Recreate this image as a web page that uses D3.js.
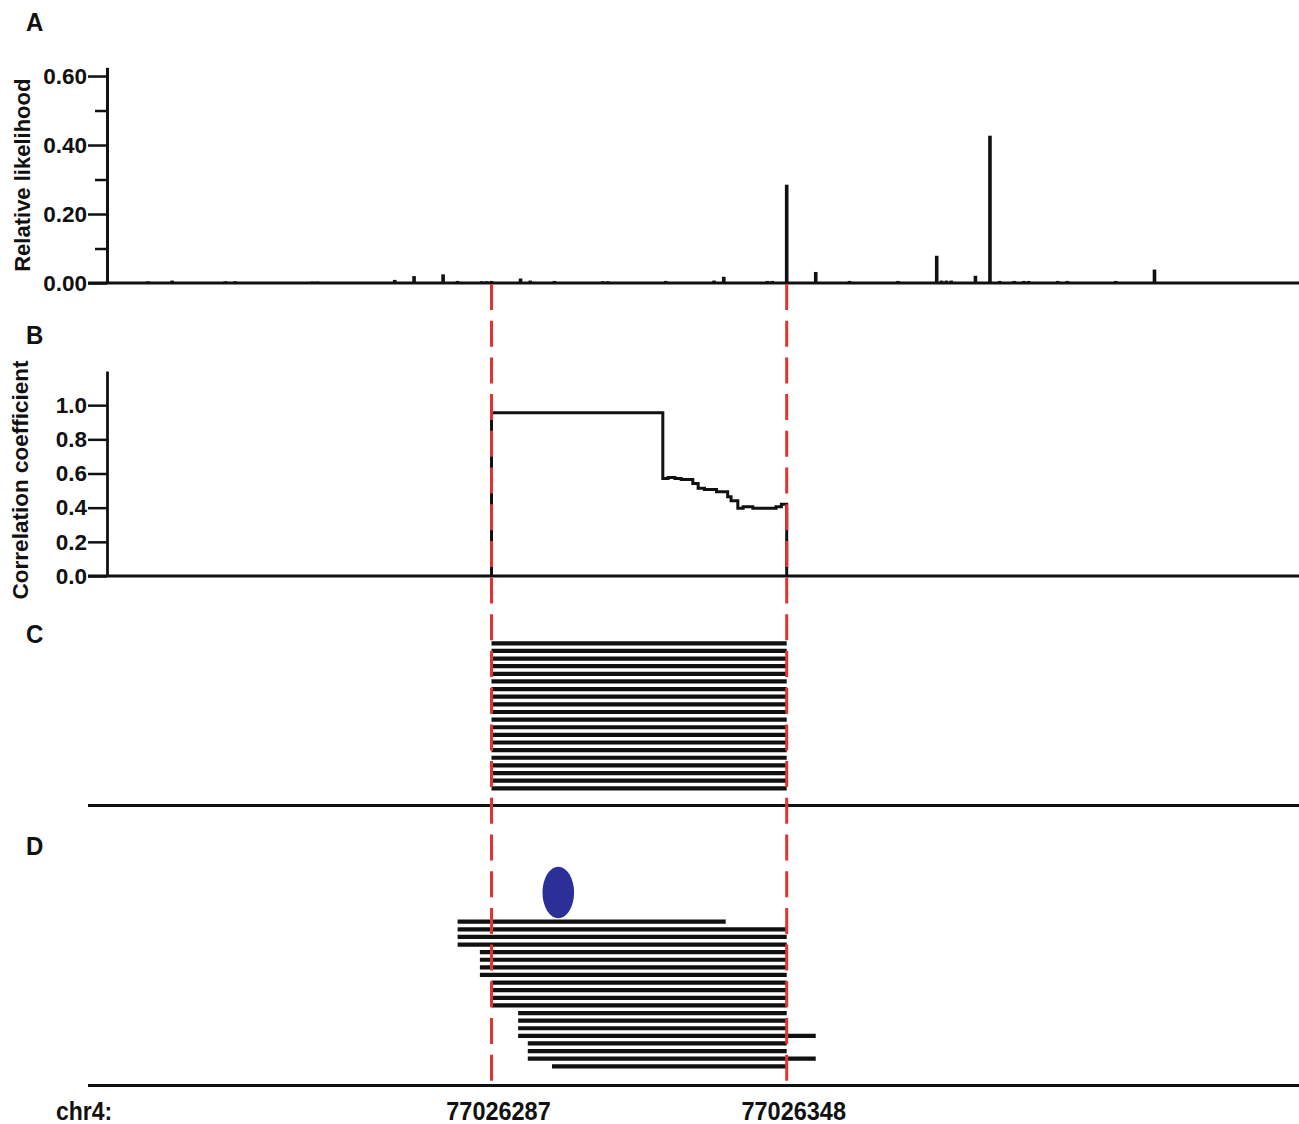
<!DOCTYPE html>
<html>
<head>
<meta charset="utf-8">
<script src="https://cdn.jsdelivr.net/npm/d3@7"></script>
<style>
  html, body { margin: 0; padding: 0; background: #fff; }
  svg { display: block; }
  text { font-family: "Liberation Sans", Arial, sans-serif; font-weight: bold; fill: #111; }
</style>
</head>
<body>
<svg id="chart" width="1299" height="1124"></svg>
<script>
// ---------------- DATA ----------------
const chrom = "chr4:";
const regionBounds = [77026287, 77026348];          // dashed red boundaries / tick labels
const xTickLabels = ["77026287", "77026348"];

// Panel A: relative likelihood per position
const likePos = [77026216, 77026221, 77026232, 77026234, 77026250, 77026251, 77026267, 77026271,
  77026277, 77026280, 77026285, 77026286, 77026287, 77026293, 77026295, 77026300, 77026310,
  77026311, 77026323, 77026333, 77026335, 77026344, 77026345, 77026348, 77026354, 77026361,
  77026371, 77026379, 77026380, 77026381, 77026382, 77026387, 77026390, 77026392, 77026395,
  77026397, 77026398, 77026404, 77026406, 77026416, 77026424];
const likeVal = [0.005, 0.007, 0.005, 0.005, 0.004, 0.004, 0.009, 0.020,
  0.025, 0.006, 0.005, 0.005, 0.006, 0.013, 0.007, 0.006, 0.005,
  0.005, 0.006, 0.007, 0.018, 0.006, 0.006, 0.285, 0.032, 0.006,
  0.006, 0.079, 0.007, 0.007, 0.007, 0.021, 0.427, 0.006, 0.006,
  0.006, 0.006, 0.006, 0.006, 0.006, 0.039];
const likeTicks = [0.00, 0.20, 0.40, 0.60];
const likeMinorTicks = [0.10, 0.30, 0.50];

// Panel B: correlation coefficient (step function)
const corrPos = [77026287, 77026322.4, 77026323.5, 77026324.9, 77026326.2, 77026328.6, 77026329.7,
  77026331.0, 77026333.5, 77026335.8, 77026336.5, 77026337.9, 77026339.0, 77026341.0,
  77026345.8, 77026346.9];
const corrVal = [0.955, 0.571, 0.577, 0.571, 0.565, 0.542, 0.513,
  0.507, 0.493, 0.464, 0.440, 0.396, 0.405, 0.396,
  0.405, 0.420];
const corrTicks = [0.0, 0.2, 0.4, 0.6, 0.8, 1.0];

// Panel C: reads (start, end)
const cStart = [77026287, 77026287, 77026287, 77026287, 77026287, 77026287, 77026287, 77026287, 77026287, 77026287,
  77026287, 77026287, 77026287, 77026287, 77026287, 77026287, 77026287, 77026287, 77026287, 77026287];
const cEnd = [77026348, 77026348, 77026348, 77026348, 77026348, 77026348, 77026348, 77026348, 77026348, 77026348,
  77026348, 77026348, 77026348, 77026348, 77026348, 77026348, 77026348, 77026348, 77026348, 77026348];

// Panel D: reads (start, end) and marked site
const dStart = [77026280, 77026280, 77026280, 77026280, 77026284.6, 77026284.6, 77026284.6, 77026284.6,
  77026287, 77026287, 77026287, 77026287, 77026292.5, 77026292.5, 77026292.5, 77026292.5,
  77026294.5, 77026294.5, 77026294.5, 77026299.5];
const dEnd = [77026335.4, 77026348, 77026348, 77026348, 77026348, 77026348, 77026348, 77026348,
  77026348, 77026348, 77026348, 77026348, 77026348, 77026348, 77026348, 77026354,
  77026348, 77026348, 77026354, 77026348];
const sitePos = [77026300.8];

// ---------------- LAYOUT ----------------
const svg = d3.select("#chart");
const axisX0 = 107, lineLeft = 88, lineRight = 1299;
const x = d3.scaleLinear().domain(regionBounds).range([491.5, 786.7]);

const yA = d3.scaleLinear().domain([0, 0.625]).range([283, 67.4]);
const yB = d3.scaleLinear().domain([0, 1.2]).range([576, 371]);
const yC = d3.scalePoint().domain(d3.range(cStart.length)).range([643.3, 788.3]);
const yD = d3.scalePoint().domain(d3.range(dStart.length)).range([921.7, 1066.3]);
const baseC = 805.5, baseD = 1085.5;

const ink = "#111";
const fmt2 = d3.format(".2f"), fmt1 = d3.format(".1f");

// Panel letters
[["A", 31], ["B", 344], ["C", 643], ["D", 855]].forEach(([t, yy]) => {
  svg.append("text").attr("transform", `translate(26,${yy}) scale(1,1.08)`).attr("font-size", 24).text(t);
});

// ---- Panel A ----
const gA = svg.append("g");
gA.append("line").attr("x1", lineLeft).attr("x2", lineRight).attr("y1", yA(0)).attr("y2", yA(0))
  .attr("stroke", ink).attr("stroke-width", 2.8);
gA.selectAll("rect.bar").data(likePos.map((p, i) => ({p, v: likeVal[i]}))).join("rect")
  .attr("class", "bar")
  .attr("x", d => x(d.p) - 1.8).attr("width", 3.6)
  .attr("y", d => yA(d.v)).attr("height", d => yA(0) - yA(d.v) + 1)
  .attr("fill", ink);
gA.append("g").attr("transform", `translate(${axisX0},0)`)
  .call(d3.axisLeft(yA).tickValues(likeTicks).tickFormat(fmt2).tickSize(19).tickSizeOuter(0).tickPadding(1));
gA.append("g").attr("transform", `translate(${axisX0},0)`)
  .call(d3.axisLeft(yA).tickValues(likeMinorTicks).tickFormat("").tickSize(12).tickSizeOuter(0));
gA.append("text").attr("transform", `translate(22,${(yA(0) + yA(0.625)) / 2}) rotate(-90)`)
  .attr("text-anchor", "middle").attr("dy", "0.35em").attr("font-size", 22).text("Relative likelihood");

// ---- Panel B ----
const gB = svg.append("g");
gB.append("line").attr("x1", lineLeft).attr("x2", lineRight).attr("y1", yB(0)).attr("y2", yB(0))
  .attr("stroke", ink).attr("stroke-width", 2.8);
const stepPts = [[regionBounds[0], 0]].concat(corrPos.map((p, i) => [p, corrVal[i]]))
  .concat([[regionBounds[1], corrVal[corrVal.length - 1]], [regionBounds[1], 0]]);
gB.append("path").datum(stepPts)
  .attr("d", d3.line().x(d => x(d[0])).y(d => yB(d[1])).curve(d3.curveStepAfter))
  .attr("fill", "none").attr("stroke", ink).attr("stroke-width", 3);
gB.append("g").attr("transform", `translate(${axisX0},0)`)
  .call(d3.axisLeft(yB).tickValues(corrTicks).tickFormat(fmt1).tickSize(19).tickSizeOuter(0).tickPadding(1));
gB.append("text").attr("transform", `translate(20,480) rotate(-90)`)
  .attr("text-anchor", "middle").attr("dy", "0.35em").attr("font-size", 22.5).text("Correlation coefficient");

// axis styling
svg.selectAll(".domain").attr("stroke", ink).attr("stroke-width", 2.8);
svg.selectAll(".tick line").attr("stroke", ink).attr("stroke-width", 2.5);
svg.selectAll(".tick text").attr("font-size", 22.5).attr("font-family", "Liberation Sans, Arial, sans-serif")
  .attr("font-weight", "bold").attr("fill", ink);

// ---- Panel C ----
const gC = svg.append("g");
gC.selectAll("line.read").data(cStart.map((s, i) => ({s, e: cEnd[i], i}))).join("line")
  .attr("class", "read")
  .attr("x1", d => x(d.s)).attr("x2", d => x(d.e)).attr("y1", d => yC(d.i)).attr("y2", d => yC(d.i))
  .attr("stroke", ink).attr("stroke-width", 4.2);
gC.append("line").attr("x1", lineLeft).attr("x2", lineRight).attr("y1", baseC).attr("y2", baseC)
  .attr("stroke", ink).attr("stroke-width", 2.8);

// ---- Panel D ----
const gD = svg.append("g");
gD.selectAll("line.read").data(dStart.map((s, i) => ({s, e: dEnd[i], i}))).join("line")
  .attr("class", "read")
  .attr("x1", d => x(d.s)).attr("x2", d => x(d.e)).attr("y1", d => yD(d.i)).attr("y2", d => yD(d.i))
  .attr("stroke", ink).attr("stroke-width", 4.2);
gD.selectAll("ellipse").data(sitePos).join("ellipse")
  .attr("cx", d => x(d)).attr("cy", 892.5).attr("rx", 15.8).attr("ry", 25.8)
  .attr("fill", "#2b2f97");
gD.append("line").attr("x1", lineLeft).attr("x2", lineRight).attr("y1", baseD).attr("y2", baseD)
  .attr("stroke", ink).attr("stroke-width", 2.8);

// ---- Red dashed boundaries ----
svg.selectAll("line.bound").data(regionBounds).join("line")
  .attr("class", "bound")
  .attr("x1", d => x(d)).attr("x2", d => x(d)).attr("y1", 284).attr("y2", 1086)
  .attr("stroke", "#e4322f").attr("stroke-width", 3).attr("stroke-dasharray", "26,10.7");

// ---- Bottom labels ----
svg.append("text").attr("transform", "translate(56,1120) scale(1,1.1)").attr("font-size", 23).text(chrom);
svg.selectAll("text.pos").data(regionBounds).join("text")
  .attr("class", "pos")
  .attr("transform", d => `translate(${x(d) + 7},1120) scale(1,1.1)`)
  .attr("text-anchor", "middle").attr("font-size", 23.5)
  .text((d, i) => xTickLabels[i]);
</script>
</body>
</html>
